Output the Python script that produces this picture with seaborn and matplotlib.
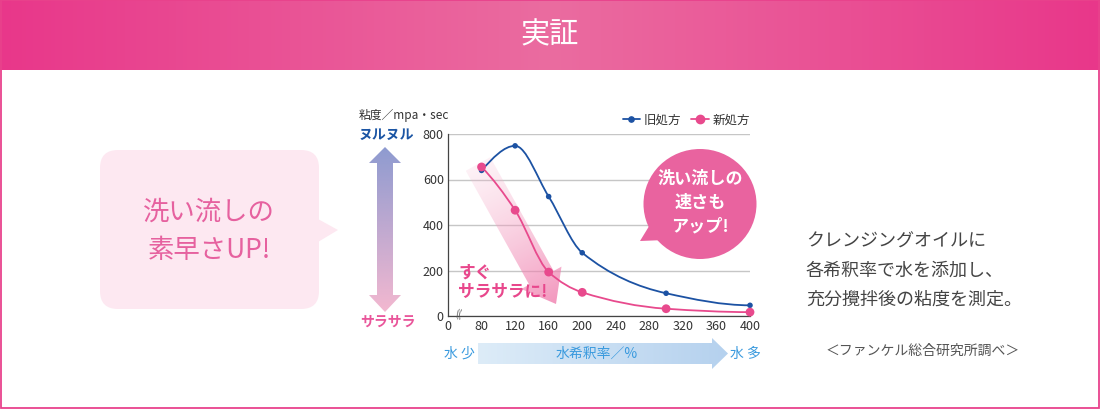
import numpy as np
import matplotlib
matplotlib.use('Agg')
import matplotlib.pyplot as plt
import seaborn as sns
from matplotlib.patches import Polygon, FancyBboxPatch, Ellipse, FancyArrow, PathPatch, Rectangle
from matplotlib.path import Path
from matplotlib.lines import Line2D
from matplotlib.transforms import Affine2D
from matplotlib.colors import to_rgb

# data
water_rate = [80, 120, 160, 200, 300, 400]
old_viscosity = [640, 748, 525, 278, 100, 47]
new_viscosity = [655, 465, 193, 104, 32, 17]
series_names = ['旧処方', '新処方']
x_ticks = [40, 80, 120, 160, 200, 240, 280, 320, 360, 400]
x_tick_labels = ['0', '80', '120', '160', '200', '240', '280', '320', '360', '400']
y_ticks = [0, 200, 400, 600, 800]

BLUE = '#1c52a3'
PINK = '#e84a8d'

sns.set_theme(style='white')
plt.rcParams['font.family'] = ['Noto Sans CJK JP', 'DejaVu Sans']

W, H = 1100, 409
fig = plt.figure(figsize=(11, 4.09), dpi=100)
# pixel coordinates, y going down, for the decorations
PX = Affine2D().scale(1 / W, -1 / H).translate(0, 1) + fig.transFigure


def grad_fill(ax, patch, p0, p1, c0, c1, a0=1.0, a1=1.0, zorder=1):
    xy = np.asarray(patch.get_xy())
    xmin, ymin = xy.min(axis=0)
    xmax, ymax = xy.max(axis=0)
    X, Y = np.meshgrid(np.linspace(xmin, xmax, 200), np.linspace(ymin, ymax, 200))
    dx, dy = p1[0] - p0[0], p1[1] - p0[1]
    t = np.clip(((X - p0[0]) * dx + (Y - p0[1]) * dy) / (dx * dx + dy * dy), 0, 1)
    c0, c1 = np.array(to_rgb(c0)), np.array(to_rgb(c1))
    rgb = c0 + (c1 - c0) * t[..., None]
    alpha = a0 + (a1 - a0) * t
    arr = np.dstack([rgb, alpha])
    im = ax.imshow(arr, extent=(xmin, xmax, ymin, ymax), origin='lower', transform=PX,
                   aspect='auto', interpolation='bilinear', zorder=zorder)
    im.set_clip_path(patch)
    return im


def smooth_path(xs, ys):
    # monotone cubic (pchip style) drawn as bezier segments
    x = np.asarray(xs, float)
    y = np.asarray(ys, float)
    h = np.diff(x)
    d = np.diff(y) / h
    m = np.zeros_like(y)
    for k in range(1, len(x) - 1):
        if d[k - 1] * d[k] <= 0:
            m[k] = 0
        else:
            w1 = 2 * h[k] + h[k - 1]
            w2 = h[k] + 2 * h[k - 1]
            m[k] = (w1 + w2) / (w1 / d[k - 1] + w2 / d[k])
    for i, (hh0, hh1, dd0, dd1) in ((0, (h[0], h[1], d[0], d[1])), (-1, (h[-1], h[-2], d[-1], d[-2]))):
        e = ((2 * hh0 + hh1) * dd0 - hh0 * dd1) / (hh0 + hh1)
        if e * dd0 <= 0:
            e = 0
        elif abs(e) > 1.5 * abs(dd0):
            e = 1.5 * dd0
        m[i] = e
    verts = [(x[0], y[0])]
    codes = [Path.MOVETO]
    for k in range(len(x) - 1):
        verts += [(x[k] + h[k] / 3, y[k] + m[k] * h[k] / 3),
                  (x[k + 1] - h[k] / 3, y[k + 1] - m[k + 1] * h[k] / 3),
                  (x[k + 1], y[k + 1])]
        codes += [Path.CURVE4] * 3
    return Path(verts, codes)


# ---------- background layer ----------
bg = fig.add_axes([0, 0, 1, 1], zorder=0)
bg.axis('off')

# header band
hx = np.linspace(0, 1, 300)
hc0, hc1 = np.array(to_rgb('#e8378a')), np.array(to_rgb('#eb6ca0'))
ht = 1 - np.abs(hx - 0.5) * 2
head = hc0 + (hc1 - hc0) * ht[:, None]
bg.imshow(head[None, :, :], extent=(0, W, 0, 70), origin='lower', transform=PX,
          aspect='auto', zorder=1)
bg.text(550, 35, '実証', transform=PX, color='white', fontsize=21, ha='center', va='center')
bg.add_patch(Rectangle((0.6, 0), W - 1.2, H - 0.6, fill=False, ec='#e8428c', lw=1.3, transform=PX))

# left speech bubble
bg.add_patch(FancyBboxPatch((100, 150), 219, 159, boxstyle='round,pad=0,rounding_size=18',
                            fc='#fde8f1', ec='none', transform=PX))
bg.add_patch(Polygon([(318, 219), (338, 230), (318, 242)], closed=True, fc='#fde8f1',
                     ec='none', transform=PX))
bg.text(209, 212, '洗い流しの', transform=PX, color='#e6619f', fontsize=19, ha='center', va='center')
bg.text(209, 250, '素早さUP!', transform=PX, color='#e6619f', fontsize=19, ha='center', va='center')

# vertical double arrow
varrow = Polygon([(385, 147), (401, 163), (393, 163), (393, 295), (401, 295), (385, 312),
                  (369, 295), (377, 295), (377, 163), (369, 163)], closed=True, transform=PX,
                 fc='none', ec='none')
bg.add_patch(varrow)
grad_fill(bg, varrow, (385, 147), (385, 312), '#8e9bd0', '#f3b8d0', zorder=2)
bg.text(359, 116, '粘度／mpa・sec', transform=PX, color='#333333', fontsize=8.5, ha='left', va='center')
bg.text(359, 135, 'ヌルヌル', transform=PX, color='#1b55a4', fontsize=10, fontweight='bold',
        ha='left', va='center')
bg.text(360, 322, 'サラサラ', transform=PX, color='#e9559a', fontsize=10, fontweight='bold',
        ha='left', va='center')

# horizontal arrow under x axis
harrow = Polygon([(478, 343), (712, 343), (712, 338), (728, 353.5), (712, 369), (712, 364),
                  (478, 364)], closed=True, transform=PX, fc='none', ec='none')
bg.add_patch(harrow)
grad_fill(bg, harrow, (478, 353), (728, 353), '#ddecf8', '#b5d1ee', zorder=2)
bg.text(597, 354, '水希釈率／%', transform=PX, color='#3a9ade', fontsize=10, ha='center', va='center', zorder=3)
bg.text(459, 354, '水 少', transform=PX, color='#3a9ade', fontsize=10, ha='center', va='center')
bg.text(745, 354, '水 多', transform=PX, color='#3a9ade', fontsize=10, ha='center', va='center')

# notes on the right
notes = ['クレンジングオイルに', '各希釈率で水を添加し、', '充分攪拌後の粘度を測定。']
for i, line in enumerate(notes):
    bg.text(806, 242 + i * 29, line, transform=PX, color='#444444', fontsize=13, ha='left', va='center')
bg.text(826, 351, '＜ファンケル総合研究所調べ＞', transform=PX, color='#555555', fontsize=10,
        ha='left', va='center')

# ---------- chart ----------
ax = fig.add_axes([448 / W, 1 - 316 / H, (750 - 448) / W, (316 - 134) / H], zorder=1)
ax.set_facecolor('none')

# diagonal arrow behind the curves
darrow = FancyArrow(478, 164, 78, 140, width=28, head_width=46, head_length=30,
                    length_includes_head=True, transform=PX, fc='none', ec='none')
ax.add_patch(darrow)
grad_fill(ax, darrow, (478, 164), (556, 304), '#f7bcd3', '#ee6ea4', a0=0.2, a1=0.72, zorder=1.5)

ax.add_patch(PathPatch(smooth_path(water_rate, old_viscosity), fill=False, ec=BLUE, lw=1.3,
                       zorder=3, clip_on=False))
ax.add_patch(PathPatch(smooth_path(water_rate, new_viscosity), fill=False, ec=PINK, lw=1.3,
                       zorder=3, clip_on=False))
sns.scatterplot(x=water_rate, y=old_viscosity, color=BLUE, s=16, edgecolor='none', ax=ax,
                zorder=4, clip_on=False, legend=False)
sns.scatterplot(x=water_rate, y=new_viscosity, color=PINK, s=40, edgecolor='none', ax=ax,
                zorder=4, clip_on=False, legend=False)

ax.set_xlim(40, 400)
ax.set_ylim(0, 800)
ax.set_aspect('auto')
ax.set_xticks(x_ticks)
ax.set_xticklabels(x_tick_labels)
ax.set_yticks(y_ticks)
ax.tick_params(axis='both', length=0, labelsize=9, colors='#333333', pad=3)
ax.yaxis.grid(True, color='#c6c6c6', lw=1)
ax.xaxis.grid(False)
for s in ['top', 'right']:
    ax.spines[s].set_visible(False)
for s in ['left', 'bottom']:
    ax.spines[s].set_color('#444444')
    ax.spines[s].set_linewidth(0.9)
ax.text(458, 314, '((', transform=PX, color='#555555', fontsize=7, ha='center', va='center',
        rotation=-10, zorder=5)

handles = [Line2D([], [], color=BLUE, lw=1.3, marker='o', markersize=3.8),
           Line2D([], [], color=PINK, lw=1.3, marker='o', markersize=6)]
fig.legend(handles, series_names, loc='center right', bbox_to_anchor=(750 / W, 1 - 120 / H),
           ncol=2, frameon=False, fontsize=9, handlelength=1.4, handletextpad=0.3,
           columnspacing=0.8, borderpad=0, borderaxespad=0, labelcolor='#333333')

# callouts on top of the grid
ax.add_patch(Ellipse((700, 204), 113, 110, transform=PX, fc='#e9639f', ec='none', zorder=6, clip_on=False))
ax.add_patch(Polygon([(640, 241), (651, 223), (665, 240)], closed=True, transform=PX,
                     fc='#e9639f', ec='none', zorder=6, clip_on=False))
for i, line in enumerate(['洗い流しの', '速さも', 'アップ!']):
    ax.text(700, 179 + i * 23.5, line, transform=PX, color='white', fontsize=12.3,
            fontweight='bold', ha='center', va='center', zorder=7)
ax.text(458, 273, 'すぐ', transform=PX, color='#e8478c', fontsize=12, fontweight='bold',
        ha='left', va='center', zorder=7)
ax.text(458, 292, 'サラサラに!', transform=PX, color='#e8478c', fontsize=12, fontweight='bold',
        ha='left', va='center', zorder=7)

fig.savefig('out.png', dpi=100)
